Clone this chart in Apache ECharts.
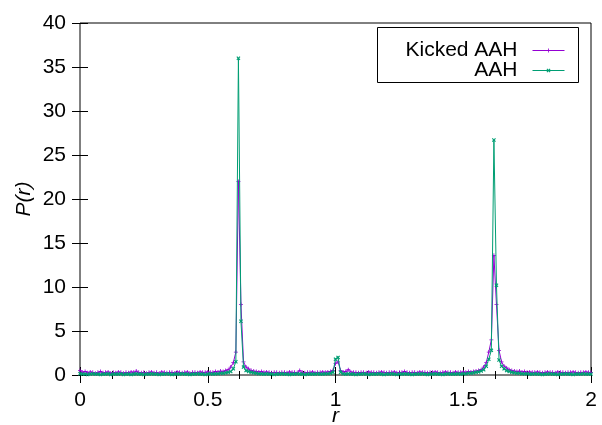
<!DOCTYPE html>
<html>
<head>
<meta charset="utf-8">
<script src="https://cdn.jsdelivr.net/npm/echarts@6/dist/echarts.min.js"></script>
<style>html,body{margin:0;padding:0;background:#fff}#c{width:602px;height:425px}</style>
</head>
<body>
<div id="c"></div>
<script>
// r grid: 0.00 .. 2.00 step 0.01
const rStart = 0, rStep = 0.01, rCount = 201;
const xTicks = [0, 0.5, 1, 1.5, 2];
const yTicks = [0, 5, 10, 15, 20, 25, 30, 35, 40];
const seriesNames = ['Kicked AAH', 'AAH'];

const kicked = [
  0.5,0.3,0.4,0.25,0.35,0.3,0.2,0.3,0.4,0.25,
  0.3,0.35,0.2,0.3,0.25,0.35,0.3,0.2,0.3,0.25,
  0.35,0.3,0.45,0.3,0.25,0.3,0.2,0.3,0.35,0.25,
  0.3,0.2,0.35,0.3,0.25,0.3,0.3,0.2,0.35,0.3,
  0.25,0.3,0.35,0.2,0.3,0.3,0.25,0.35,0.3,0.3,
  0.35,0.3,0.3,0.4,0.35,0.45,0.4,0.5,0.6,0.9,
  1.4,2.6,22,8.0,1.5,0.9,0.7,0.5,0.45,0.4,
  0.35,0.4,0.3,0.35,0.3,0.25,0.3,0.3,0.25,0.3,
  0.3,0.25,0.35,0.3,0.3,0.25,0.5,0.3,0.25,0.3,
  0.3,0.35,0.25,0.3,0.3,0.35,0.3,0.35,0.4,0.5,
  1.3,1.5,0.5,0.35,0.4,0.6,0.35,0.3,0.3,0.25,
  0.3,0.3,0.25,0.35,0.3,0.3,0.25,0.3,0.35,0.3,
  0.25,0.3,0.3,0.35,0.25,0.3,0.3,0.4,0.3,0.25,
  0.3,0.3,0.25,0.35,0.3,0.3,0.25,0.3,0.3,0.35,
  0.3,0.25,0.3,0.35,0.3,0.3,0.25,0.35,0.3,0.3,
  0.35,0.3,0.4,0.35,0.4,0.45,0.5,0.6,0.9,1.4,
  2.6,4.0,13.6,8.0,2.8,1.5,1.0,0.8,0.6,0.5,
  0.45,0.4,0.45,0.35,0.4,0.3,0.35,0.3,0.3,0.35,
  0.3,0.25,0.3,0.35,0.3,0.3,0.25,0.35,0.3,0.3,
  0.25,0.3,0.3,0.35,0.3,0.25,0.3,0.3,0.35,0.3,
  0.3
];
const aah = [
  0.15,0.1,0.1,0.05,0.1,0.15,0.1,0.1,0.05,0.1,
  0.1,0.15,0.05,0.1,0.1,0.1,0.15,0.05,0.1,0.1,
  0.05,0.1,0.15,0.1,0.1,0.05,0.1,0.1,0.15,0.1,
  0.1,0.05,0.1,0.1,0.15,0.1,0.05,0.1,0.1,0.1,
  0.15,0.1,0.1,0.05,0.1,0.1,0.15,0.1,0.1,0.05,
  0.1,0.15,0.1,0.15,0.15,0.2,0.2,0.25,0.3,0.4,
  0.7,1.5,36,6.1,0.9,0.5,0.4,0.3,0.25,0.2,
  0.15,0.15,0.1,0.15,0.1,0.1,0.05,0.1,0.1,0.15,
  0.1,0.1,0.05,0.1,0.1,0.15,0.1,0.1,0.05,0.1,
  0.1,0.1,0.1,0.15,0.1,0.1,0.15,0.15,0.2,0.3,
  1.8,2.0,0.3,0.15,0.1,0.15,0.1,0.1,0.05,0.1,
  0.1,0.15,0.1,0.05,0.1,0.1,0.1,0.15,0.1,0.05,
  0.1,0.1,0.15,0.1,0.05,0.1,0.1,0.15,0.1,0.1,
  0.05,0.1,0.1,0.1,0.15,0.1,0.05,0.1,0.1,0.15,
  0.1,0.1,0.05,0.1,0.15,0.1,0.1,0.1,0.15,0.1,
  0.15,0.15,0.2,0.2,0.25,0.3,0.35,0.45,0.6,1.0,
  1.8,2.8,26.7,10.2,1.7,1.0,0.7,0.5,0.4,0.3,
  0.25,0.2,0.2,0.15,0.15,0.15,0.1,0.1,0.15,0.1,
  0.1,0.05,0.1,0.1,0.15,0.1,0.1,0.05,0.1,0.1,
  0.15,0.1,0.1,0.05,0.1,0.1,0.1,0.15,0.1,0.1,
  0.1
];

const rVals = [];
for (let i = 0; i < rCount; i++) rVals.push(+(rStart + i * rStep).toFixed(2));
const pairs = arr => arr.map((v, i) => [rVals[i], v]);

const FONT = 'Liberation Sans, Arial, sans-serif';
const PURPLE = '#9400d3', GREEN = '#009e73';
const plusPath = 'path://M2,0H3V2H5V3H3V5H2V3H0V2H2Z';
const xPath = 'path://M0,1L1,0L2.5,1.5L4,0L5,1L3.5,2.5L5,4L4,5L2.5,3.5L1,5L0,4L1.5,2.5Z';

const chart = echarts.init(document.getElementById('c'), null, {renderer: 'canvas'});

const xCommon = {
  type: 'value', min: xTicks[0], max: xTicks[xTicks.length - 1], interval: 0.5,
  splitLine: {show: false}, axisLine: {show: false},
  axisTick: {show: true, inside: true, length: 8, lineStyle: {color: '#000'}},
  minorTick: {show: true, splitNumber: 4, length: 4, lineStyle: {color: '#000'}},
  minorSplitLine: {show: false}
};
const yCommon = {
  type: 'value', min: yTicks[0], max: yTicks[yTicks.length - 1], interval: 5,
  splitLine: {show: false}, axisLine: {show: false},
  axisTick: {show: true, inside: true, length: 8, lineStyle: {color: '#000'}}
};
const legendText = {fontSize: 21, color: '#000', fontFamily: FONT, padding: [0, 10, 0, 0]};

chart.setOption({
  animation: false,
  backgroundColor: '#fff',
  grid: {left: 80, right: 11, top: 23, bottom: 50, containLabel: false, outerBoundsMode: 'none',
         show: true, borderColor: '#000', borderWidth: 1, backgroundColor: 'transparent'},
  xAxis: [
    Object.assign({}, xCommon, {
      position: 'bottom',
      axisLabel: {show: true, color: '#000', fontSize: 21, fontFamily: FONT, margin: 15},
      name: 'r', nameLocation: 'middle', nameGap: 31, nameMoveOverlap: false,
      nameTextStyle: {color: '#000', fontSize: 21, fontStyle: 'italic', fontFamily: FONT}
    }),
    Object.assign({}, xCommon, {position: 'top', axisLabel: {show: false}})
  ],
  yAxis: [
    Object.assign({}, yCommon, {
      position: 'left',
      axisLabel: {show: true, color: '#000', fontSize: 21, fontFamily: FONT, margin: 14},
      name: 'P(r)', nameLocation: 'middle', nameGap: 45, nameMoveOverlap: false,
      nameTextStyle: {color: '#000', fontSize: 21, fontStyle: 'italic', fontFamily: FONT}
    }),
    Object.assign({}, yCommon, {position: 'right', axisLabel: {show: false}})
  ],
  legend: [
    {data: [seriesNames[0]], right: 37, top: 40, align: 'right', orient: 'vertical',
     itemWidth: 32, itemHeight: 5, itemGap: 15, padding: 0, textStyle: legendText,
     lineStyle: {width: 1}},
    {data: [seriesNames[1]], right: 37, top: 60, align: 'right', orient: 'vertical',
     itemWidth: 32, itemHeight: 5, itemGap: 15, padding: 0, textStyle: legendText,
     lineStyle: {width: 1}}
  ],
  graphic: [{
    type: 'rect', left: 377, top: 27, shape: {width: 201, height: 55},
    style: {fill: 'transparent', stroke: '#000', lineWidth: 1}, z: 100
  }],
  series: [
    {
      name: seriesNames[0], type: 'line', xAxisIndex: 0, yAxisIndex: 0,
      data: pairs(kicked), showSymbol: true, symbol: plusPath, symbolSize: 4,
      lineStyle: {color: PURPLE, width: 1}, itemStyle: {color: PURPLE},
      emphasis: {disabled: true}, z: 2
    },
    {
      name: seriesNames[1], type: 'line', xAxisIndex: 0, yAxisIndex: 0,
      data: pairs(aah), showSymbol: true, symbol: xPath, symbolSize: 4,
      lineStyle: {color: GREEN, width: 1}, itemStyle: {color: GREEN},
      emphasis: {disabled: true}, z: 3
    }
  ]
});
</script>
</body>
</html>
